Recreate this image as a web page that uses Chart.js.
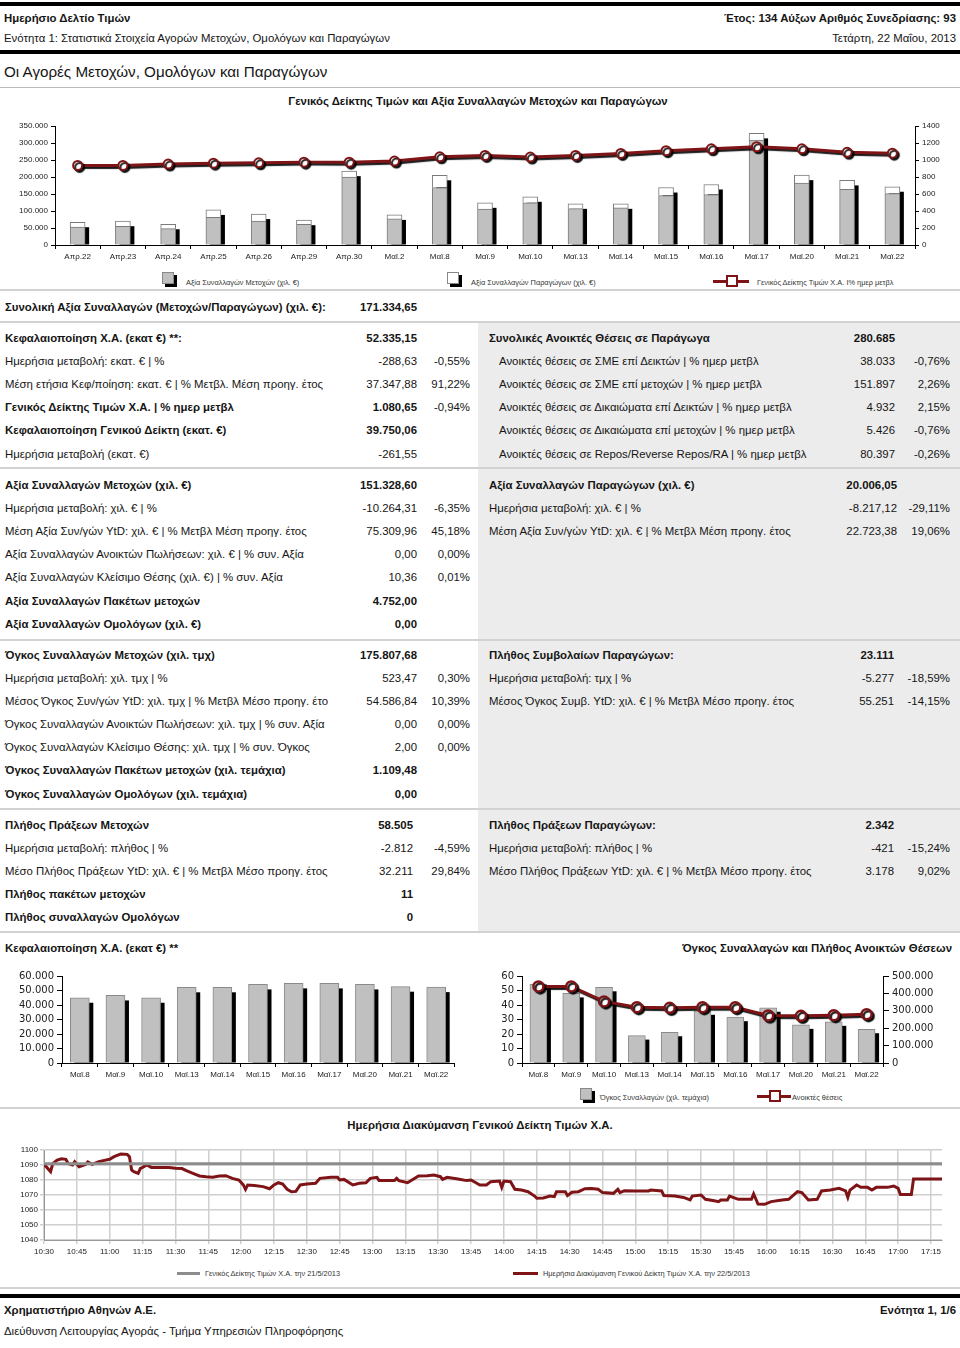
<!DOCTYPE html>
<html>
<head>
<meta charset="utf-8">
<script src="https://cdn.jsdelivr.net/npm/chart.js@4.4.0/dist/chart.umd.min.js"></script>
<style>
body{margin:0;background:#fff;font-family:"Liberation Sans",Arial,sans-serif;color:#151515}
#page{position:relative;width:960px;height:1348px;overflow:hidden}
.t{position:absolute;white-space:nowrap;font-size:11.4px;line-height:14px;transform:translateY(-50%)}
.b{font-weight:bold}
.hl{position:absolute;left:0;width:960px;height:2px;background:#d2d2d2}
.blk{position:absolute;left:0;width:960px;height:4px;background:#000}
.panel{position:absolute;left:478px;width:482px;background:#ececec}
canvas{position:absolute}
.lg{position:absolute;font-size:7.4px;color:#333;white-space:nowrap;transform:translateY(-50%)}
.sq{position:absolute;width:10px;height:10px;border:1px solid #888;box-shadow:3px 3px 0 #000}
.ln{position:absolute;height:3px;background:#7f1417}
.mk{position:absolute;width:8px;height:8px;background:#fff;border:2px solid #7f1417}
</style>
</head>
<body>
<div id="page">
  <div class="blk" style="top:2px"></div>
  <div class="blk" style="top:50px"></div>
  <div class="hl" style="top:87px;height:1px;background:#bbb"></div>
  <div class="panel" style="top:323px;height:609px"></div>
  <div class="hl" style="top:289px"></div>
  <div class="hl" style="top:321px"></div>
  <div class="hl" style="top:467px"></div>
  <div class="hl" style="top:639px"></div>
  <div class="hl" style="top:808px"></div>
  <div class="hl" style="top:931px"></div>
  <div class="hl" style="top:1107px"></div>
  <div class="hl" style="top:1287px"></div>
  <div class="blk" style="top:1294px"></div>

  <canvas id="c1" width="960" height="160" style="left:0;top:110px"></canvas>
  <canvas id="c2" width="480" height="124" style="left:0;top:962px"></canvas>
  <canvas id="c3" width="480" height="124" style="left:480px;top:962px"></canvas>
  <canvas id="c4" width="960" height="125" style="left:0;top:1140px"></canvas>
</div>
<script>
// top chart: last 19 sessions
var dayLabels = ["Απρ.22", "Απρ.23", "Απρ.24", "Απρ.25", "Απρ.26", "Απρ.29", "Απρ.30", "Μαϊ.2", "Μαϊ.8", "Μαϊ.9",
  "Μαϊ.10", "Μαϊ.13", "Μαϊ.14", "Μαϊ.15", "Μαϊ.16", "Μαϊ.17", "Μαϊ.20", "Μαϊ.21", "Μαϊ.22"];
var shareValue = [53000, 55000, 48000, 81600, 70000, 61000, 199600, 76700, 169000, 106000,
  124000, 107000, 109000, 145500, 148500, 308700, 182000, 164000, 151329];
var derivValue = [14000, 15000, 13000, 21500, 21000, 12000, 17600, 11800, 36000, 18000,
  17700, 14000, 12000, 23500, 29500, 19600, 23500, 26000, 20006];
var indexClose = [936, 936, 952, 963, 967, 975, 975, 987, 1038, 1054,
  1034, 1054, 1077, 1109, 1132, 1156, 1132, 1091, 1080.65];

// bottom charts: last 11 sessions
var shortLabels = ["Μαϊ.8", "Μαϊ.9", "Μαϊ.10", "Μαϊ.13", "Μαϊ.14", "Μαϊ.15", "Μαϊ.16", "Μαϊ.17", "Μαϊ.20", "Μαϊ.21", "Μαϊ.22"];
var marketCap = [45000, 46600, 45000, 52200, 52200, 54200, 54900, 54900, 54200, 52620, 52335];
var tradeVolume = [54.2, 48.0, 52.2, 18.9, 21.2, 36.0, 31.6, 38.1, 26.3, 28.4, 23.3];
var openPositions = [440000, 440000, 354000, 321000, 317000, 321000, 321000, 273000, 271000, 275000, 280685];

// intraday
var prevClose = 1090.9;
var intradayTime = ["10:30","10:31","10:33","10:34","10:36","10:38","10:40","10:41","10:43","10:44","10:46","10:49","10:50","10:52","10:55","10:57",
  "11:00","11:02","11:05","11:08","11:09","11:10","11:11","11:13","11:14","11:15","11:17","11:19","11:23","11:27","11:30","11:33","11:35","11:38",
  "11:41","11:44","11:47","11:50","11:53","11:56","11:59","12:01","12:02","12:03","12:06","12:10","12:13","12:15","12:17","12:19","12:21","12:23",
  "12:25","12:27","12:30","12:34","12:36","12:41","12:44","12:45","12:47","12:51","12:54","12:57","12:59","13:02","13:03","13:10","13:11","13:12",
  "13:16","13:18","13:21","13:25","13:28","13:31","13:32","13:34","13:39","13:43","13:45","13:49","13:52","13:54","13:58","13:59","14:00","14:03",
  "14:05","14:08","14:11","14:14","14:15","14:18","14:21","14:23","14:24","14:28","14:29","14:31","14:34","14:37","14:40","14:43","14:45","14:50",
  "14:52","14:53","14:55","15:00","15:06","15:07","15:12","15:13","15:18","15:22","15:25","15:26","15:30","15:32","15:36","15:38","15:39","15:42",
  "15:43","15:47","15:53","15:54","15:56","15:59","16:02","16:07","16:10","16:14","16:16","16:19","16:23","16:25","16:29","16:33","16:36","16:37",
  "16:38","16:41","16:43","16:46","16:48","16:50","16:55","16:58","17:00","17:01","17:06","17:07","17:20"];
var intradayIndex = [1090.0,1088.9,1085.6,1091.0,1093.3,1094.2,1093.8,1091.0,1090.0,1092.2,1088.9,1090.4,1092.0,1090.4,1092.2,1092.9,
  1093.8,1095.6,1097.3,1097.1,1095.6,1086.7,1085.6,1084.4,1087.8,1088.4,1090.0,1088.4,1088.4,1088.4,1087.8,1087.6,1086.2,1084.4,
  1082.7,1082.2,1081.8,1082.7,1082.9,1081.1,1080.0,1076.7,1073.8,1076.7,1076.4,1075.6,1074.2,1076.7,1078.2,1077.3,1073.8,1072.2,
  1072.4,1076.7,1077.3,1077.8,1081.1,1081.8,1081.8,1080.0,1080.4,1076.7,1077.8,1078.2,1081.1,1081.8,1079.6,1079.6,1081.1,1079.6,
  1078.2,1080.0,1082.7,1082.9,1083.3,1082.2,1080.4,1081.8,1080.7,1079.6,1080.0,1076.7,1076.7,1078.9,1079.3,1075.1,1079.3,1078.9,
  1073.8,1073.3,1072.2,1069.3,1067.8,1068.0,1069.3,1068.9,1072.2,1072.2,1069.6,1071.8,1072.2,1074.2,1074.4,1073.8,1071.6,1071.1,
  1073.8,1071.6,1072.9,1072.7,1072.7,1073.3,1072.7,1069.6,1069.3,1068.4,1066.7,1069.3,1070.0,1067.1,1066.2,1065.6,1066.7,1066.7,
  1069.3,1067.1,1067.1,1070.7,1064.0,1063.8,1065.6,1066.7,1067.1,1072.2,1071.6,1066.7,1067.1,1072.7,1073.3,1074.4,1072.7,1068.4,
  1073.3,1076.7,1075.1,1075.1,1073.3,1075.1,1075.1,1076.0,1074.4,1070.4,1070.4,1080.7,1080.7];

var MAROON = "#7f1417";
var page = document.getElementById("page");

function txt(x, y, s, cls, right) {
  var d = document.createElement("div");
  d.className = "t " + (cls || "");
  d.textContent = s;
  if (right) d.style.right = (960 - x) + "px"; else d.style.left = x + "px";
  d.style.top = y + "px";
  page.appendChild(d);
  return d;
}

// rows: [label, value, pct, bold]
function rows(x, valR, pctR, ys, list, indent) {
  list.forEach(function (r, i) {
    var lx = (indent && !r[3]) ? x + indent : x;
    txt(lx, ys[i], r[0], r[3] ? "b" : "");
    if (r[1]) txt(valR, ys[i], r[1], r[3] ? "b" : "", true);
    if (r[2]) txt(pctR, ys[i], r[2], "", true);
  });
}

// header
txt(4, 18, "Ημερήσιο Δελτίο Τιμών", "b");
txt(4, 38, "Ενότητα 1: Στατιστικά Στοιχεία Αγορών Μετοχών, Ομολόγων και Παραγώγων", "");
txt(956, 18, "Έτος: 134 Αύξων Αριθμός Συνεδρίασης: 93", "b", true);
txt(956, 38, "Τετάρτη, 22 Μαΐου, 2013", "", true);
txt(4, 72, "Οι Αγορές Μετοχών, Ομολόγων και Παραγώγων", "").style.fontSize = "15.2px";
var t1 = txt(0, 101, "Γενικός Δείκτης Τιμών και Αξία Συναλλαγών Μετοχών και Παραγώγων", "b");
t1.style.left = "0"; t1.style.width = "956px"; t1.style.textAlign = "center";

// tables
txt(5, 307, "Συνολική Αξία Συναλλαγών (Μετοχών/Παραγώγων) (χιλ. €):", "b");
txt(417, 307, "171.334,65", "b", true);

var y2s = [338, 361, 384, 407, 430, 454];
rows(5, 417, 470, y2s, [
  ["Κεφαλαιοποίηση Χ.Α. (εκατ €) **:", "52.335,15", "", true],
  ["Ημερήσια μεταβολή: εκατ. € | %", "-288,63", "-0,55%"],
  ["Μέση ετήσια Κεφ/ποίηση: εκατ. € | % Μετβλ. Μέση προηγ. έτος", "37.347,88", "91,22%"],
  ["Γενικός Δείκτης Τιμών Χ.Α. | % ημερ μετβλ", "1.080,65", "-0,94%", true],
  ["Κεφαλαιοποίηση Γενικού Δείκτη (εκατ. €)", "39.750,06", "", true],
  ["Ημερήσια μεταβολή (εκατ. €)", "-261,55", ""]
]);
rows(489, 895, 950, y2s, [
  ["Συνολικές Ανοικτές Θέσεις σε Παράγωγα", "280.685", "", true],
  ["Ανοικτές θέσεις σε ΣΜΕ επί Δεικτών | % ημερ μετβλ", "38.033", "-0,76%"],
  ["Ανοικτές θέσεις σε ΣΜΕ επί μετοχών | % ημερ μετβλ", "151.897", "2,26%"],
  ["Ανοικτές θέσεις σε Δικαιώματα επί Δεικτών | % ημερ μετβλ", "4.932", "2,15%"],
  ["Ανοικτές θέσεις σε Δικαιώματα επί μετοχών | % ημερ μετβλ", "5.426", "-0,76%"],
  ["Ανοικτές θέσεις σε Repos/Reverse Repos/RA | % ημερ μετβλ", "80.397", "-0,26%"]
], 10);

var y3s = [485, 508, 531, 554, 577, 601, 624];
rows(5, 417, 470, y3s, [
  ["Αξία Συναλλαγών Μετοχών (χιλ. €)", "151.328,60", "", true],
  ["Ημερήσια μεταβολή: χιλ. € | %", "-10.264,31", "-6,35%"],
  ["Μέση Αξία Συν/γών YtD: χιλ. € | % Μετβλ Μέση προηγ. έτος", "75.309,96", "45,18%"],
  ["Αξία Συναλλαγών Ανοικτών Πωλήσεων: χιλ. € | % συν. Αξία", "0,00", "0,00%"],
  ["Αξία Συναλλαγών Κλείσιμο Θέσης (χιλ. €) | % συν. Αξία", "10,36", "0,01%"],
  ["Αξία Συναλλαγών Πακέτων μετοχών", "4.752,00", "", true],
  ["Αξία Συναλλαγών Ομολόγων (χιλ. €)", "0,00", "", true]
]);
rows(489, 897, 950, y3s, [
  ["Αξία Συναλλαγών Παραγώγων (χιλ. €)", "20.006,05", "", true],
  ["Ημερήσια μεταβολή: χιλ. € | %", "-8.217,12", "-29,11%"],
  ["Μέση Αξία Συν/γών YtD: χιλ. € | % Μετβλ Μέση προηγ. έτος", "22.723,38", "19,06%"]
]);

var y4s = [655, 678, 701, 724, 747, 770, 794];
rows(5, 417, 470, y4s, [
  ["Όγκος Συναλλαγών Μετοχών (χιλ. τμχ)", "175.807,68", "", true],
  ["Ημερήσια μεταβολή: χιλ. τμχ | %", "523,47", "0,30%"],
  ["Μέσος Όγκος Συν/γών YtD: χιλ. τμχ | % Μετβλ Μέσο προηγ. έτο", "54.586,84", "10,39%"],
  ["Όγκος Συναλλαγών Ανοικτών Πωλήσεων: χιλ. τμχ | % συν. Αξία", "0,00", "0,00%"],
  ["Όγκος Συναλλαγών Κλείσιμο Θέσης: χιλ. τμχ | % συν. Όγκος", "2,00", "0,00%"],
  ["Όγκος Συναλλαγών Πακέτων μετοχών (χιλ. τεμάχια)", "1.109,48", "", true],
  ["Όγκος Συναλλαγών Ομολόγων (χιλ. τεμάχια)", "0,00", "", true]
]);
rows(489, 894, 950, y4s, [
  ["Πλήθος Συμβολαίων Παραγώγων:", "23.111", "", true],
  ["Ημερήσια μεταβολή: τμχ | %", "-5.277", "-18,59%"],
  ["Μέσος Όγκος Συμβ. YtD: χιλ. € | % Μετβλ Μέσο προηγ. έτος", "55.251", "-14,15%"]
]);

var y5s = [825, 848, 871, 894, 917];
rows(5, 413, 470, y5s, [
  ["Πλήθος Πράξεων Μετοχών", "58.505", "", true],
  ["Ημερήσια μεταβολή: πλήθος | %", "-2.812", "-4,59%"],
  ["Μέσο Πλήθος Πράξεων YtD: χιλ. € | % Μετβλ Μέσο προηγ. έτος", "32.211", "29,84%"],
  ["Πλήθος πακέτων μετοχών", "11", "", true],
  ["Πλήθος συναλλαγών Ομολόγων", "0", "", true]
]);
rows(489, 894, 950, y5s, [
  ["Πλήθος Πράξεων Παραγώγων:", "2.342", "", true],
  ["Ημερήσια μεταβολή: πλήθος | %", "-421", "-15,24%"],
  ["Μέσο Πλήθος Πράξεων YtD: χιλ. € | % Μετβλ Μέσο προηγ. έτος", "3.178", "9,02%"]
]);

// chart titles
txt(5, 948, "Κεφαλαιοποίηση Χ.Α. (εκατ €) **", "b");
txt(952, 948, "Όγκος Συναλλαγών και Πλήθος Ανοικτών Θέσεων", "b", true);
var t4 = txt(0, 1125, "Ημερήσια Διακύμανση Γενικού Δείκτη Τιμών Χ.Α.", "b");
t4.style.width = "960px"; t4.style.textAlign = "center";

// footer
txt(4, 1310, "Χρηματιστήριο Αθηνών Α.Ε.", "b");
txt(4, 1331, "Διεύθυνση Λειτουργίας Αγοράς - Τμήμα Υπηρεσιών Πληροφόρησης", "");
txt(956, 1310, "Ενότητα 1, 1/6", "b", true);

// html legends
function el(cls, css, text) {
  var d = document.createElement("div");
  d.className = cls;
  d.style.cssText = css;
  if (text) d.textContent = text;
  page.appendChild(d);
}
el("sq", "left:162px;top:272px;background:#c0c0c0");
el("lg", "left:186px;top:282px", "Αξία Συναλλαγών Μετοχών (χιλ. €)");
el("sq", "left:447px;top:272px;background:#fff");
el("lg", "left:471px;top:282px", "Αξία Συναλλαγών Παραγώγων (χιλ. €)");
el("ln", "left:713px;top:280px;width:36px");
el("mk", "left:726px;top:275px");
el("lg", "left:757px;top:282px", "Γενικός Δείκτης Τιμών Χ.Α. I% ημερ μετβλ");

el("sq", "left:580px;top:1088px;background:#c0c0c0");
el("lg", "left:600px;top:1097px", "Όγκος Συναλλαγών (χιλ. τεμάχια)");
el("ln", "left:757px;top:1095px;width:34px");
el("mk", "left:769px;top:1090px");
el("lg", "left:792px;top:1097px", "Ανοικτές θέσεις");

el("ln", "left:177px;top:1272px;width:23px;background:#8c8c8c");
el("lg", "left:205px;top:1273px", "Γενικός Δείκτης Τιμών Χ.Α. την  21/5/2013");
el("ln", "left:513px;top:1272px;width:25px");
el("lg", "left:543px;top:1273px", "Ημερήσια Διακύμανση Γενικού Δείκτη Τιμών Χ.Α. την  22/5/2013");

// chart helpers
Chart.defaults.font.family = "'Liberation Sans', Arial, sans-serif";
Chart.defaults.color = "#222";

function dots(v) { return String(v).replace(/\B(?=(\d{3})+(?!\d))/g, "."); }
function plain(v) { return String(v); }
function toMin(s) { var p = s.split(":"); return (+p[0]) * 60 + (+p[1]) - 630; }
function hhmm(m) { var t = 630 + m; return Math.floor(t / 60) + ":" + String(t % 60).padStart(2, "0"); }

var barShadow = {
  id: "barShadow",
  beforeDatasetsDraw: function (chart, args, opts) {
    var ctx = chart.ctx;
    var metas = chart.getSortedVisibleDatasetMetas().filter(function (m) { return m.type === "bar"; });
    if (!metas.length) return;
    ctx.save();
    ctx.fillStyle = "#000";
    metas[0].data.forEach(function (bar, i) {
      var top = Math.min.apply(null, metas.map(function (m) { return m.data[i].y; }));
      var w = bar.width;
      ctx.fillRect(bar.x - w / 2 + opts.dx, top + opts.dy, w, bar.base - top - opts.dy);
    });
    ctx.restore();
  }
};
var lineShadow = {
  id: "lineShadow",
  beforeDatasetDraw: function (chart, args) {
    if (args.meta.type !== "line") return;
    var ctx = chart.ctx;
    ctx.save();
    ctx.shadowColor = "rgba(0,0,0,0.9)";
    ctx.shadowOffsetX = 2;
    ctx.shadowOffsetY = 2;
    ctx.shadowBlur = 1;
  },
  afterDatasetDraw: function (chart, args) {
    if (args.meta.type !== "line") return;
    chart.ctx.restore();
  }
};

function axis(extra) {
  var a = {
    grid: { drawOnChartArea: false, tickLength: 4, color: "#000" },
    border: { color: "#000" },
    ticks: { font: { size: 8 }, color: "#222", padding: 3, autoSkip: false, maxRotation: 0 }
  };
  for (var k in extra) a[k] = extra[k];
  return a;
}
function yticks(step, cb, size, fam) {
  return { stepSize: step, callback: cb, autoSkip: false, color: "#222", padding: 3,
    font: fam ? { size: size, family: fam } : { size: size } };
}

// top chart
new Chart(document.getElementById("c1"), {
  data: {
    labels: dayLabels,
    datasets: [
      { type: "line", data: indexClose, yAxisID: "y2", borderColor: MAROON, borderWidth: 3,
        pointRadius: 4.5, pointBackgroundColor: "#fff", pointBorderColor: MAROON, pointBorderWidth: 2, order: 0 },
      { type: "bar", data: shareValue, yAxisID: "y", backgroundColor: "#c0c0c0", borderColor: "#7a7a7a",
        borderWidth: 1, barThickness: 15, order: 1 },
      { type: "bar", data: derivValue, yAxisID: "y", backgroundColor: "#fff", borderColor: "#7a7a7a",
        borderWidth: 1, barThickness: 15, order: 1 }
    ]
  },
  options: {
    responsive: false, animation: false,
    layout: { padding: { top: 16 } },
    plugins: { legend: { display: false }, tooltip: { enabled: false }, barShadow: { dx: 4, dy: 5 } },
    scales: {
      x: axis({ stacked: true, afterFit: function (s) { s.height = 25; } }),
      y: axis({ stacked: true, position: "left", min: 0, max: 350000,
        ticks: yticks(50000, dots, 8),
        afterFit: function (s) { s.width = 55; } }),
      y2: axis({ position: "right", min: 0, max: 1400,
        ticks: yticks(200, plain, 8),
        afterFit: function (s) { s.width = 45; } })
    }
  },
  plugins: [barShadow, lineShadow]
});

// market cap chart
new Chart(document.getElementById("c2"), {
  type: "bar",
  data: {
    labels: shortLabels,
    datasets: [{ data: marketCap, backgroundColor: "#c0c0c0", borderColor: "#8a8a8a", borderWidth: 1, barThickness: 19 }]
  },
  options: {
    responsive: false, animation: false,
    layout: { padding: { top: 14, right: 26 } },
    plugins: { legend: { display: false }, tooltip: { enabled: false }, barShadow: { dx: 4, dy: 5 } },
    scales: {
      x: axis({ afterFit: function (s) { s.height = 23; } }),
      y: axis({ min: 0, max: 60000,
        ticks: yticks(10000, dots, 10, "'DejaVu Sans'"),
        grid: { drawOnChartArea: false, tickLength: 5, color: "#000" },
        afterFit: function (s) { s.width = 62; } })
    }
  },
  plugins: [barShadow]
});

// volume + open positions chart
new Chart(document.getElementById("c3"), {
  data: {
    labels: shortLabels,
    datasets: [
      { type: "line", data: openPositions, yAxisID: "y2", borderColor: MAROON, borderWidth: 3,
        pointRadius: 5, pointBackgroundColor: "#fff", pointBorderColor: MAROON, pointBorderWidth: 2.5, order: 0 },
      { type: "bar", data: tradeVolume, yAxisID: "y", backgroundColor: "#c0c0c0", borderColor: "#8a8a8a",
        borderWidth: 1, barThickness: 17, order: 1 }
    ]
  },
  options: {
    responsive: false, animation: false,
    layout: { padding: { top: 14 } },
    plugins: { legend: { display: false }, tooltip: { enabled: false }, barShadow: { dx: 4, dy: 4 } },
    scales: {
      x: axis({ afterFit: function (s) { s.height = 23; } }),
      y: axis({ position: "left", min: 0, max: 60,
        ticks: yticks(10, plain, 10, "'DejaVu Sans'"),
        grid: { drawOnChartArea: false, tickLength: 5, color: "#000" },
        afterFit: function (s) { s.width = 42; } }),
      y2: axis({ position: "right", min: 0, max: 500000,
        ticks: yticks(100000, dots, 10, "'DejaVu Sans'"),
        grid: { drawOnChartArea: false, tickLength: 6, color: "#000" },
        afterFit: function (s) { s.width = 77; } })
    }
  },
  plugins: [barShadow, lineShadow]
});

// intraday chart
var intradayPts = intradayTime.map(function (t, i) { return { x: toMin(t), y: intradayIndex[i] }; });
new Chart(document.getElementById("c4"), {
  type: "line",
  data: {
    datasets: [
      { data: [{ x: 0, y: prevClose }, { x: 410, y: prevClose }], borderColor: "#8c8c8c", borderWidth: 3, pointRadius: 0 },
      { data: intradayPts, borderColor: MAROON, borderWidth: 3, pointRadius: 0 }
    ]
  },
  options: {
    responsive: false, animation: false,
    layout: { padding: { top: 10, right: 18 } },
    plugins: { legend: { display: false }, tooltip: { enabled: false } },
    scales: {
      x: { type: "linear", min: 0, max: 410,
        grid: { color: "#cfcfcf", lineWidth: 1.5, tickLength: 4 },
        border: { color: "#999" },
        ticks: { stepSize: 15, includeBounds: false, callback: hhmm, maxRotation: 0, autoSkip: false, font: { size: 8 }, color: "#222" },
        afterFit: function (s) { s.height = 25; } },
      y: { min: 1040, max: 1100,
        grid: { color: "#cfcfcf", lineWidth: 1.5, tickLength: 4 },
        border: { color: "#999" },
        ticks: { stepSize: 10, callback: plain, autoSkip: false, font: { size: 8 }, color: "#222", padding: 2 },
        afterFit: function (s) { s.width = 44; } }
    }
  }
});
</script>
</body>
</html>
